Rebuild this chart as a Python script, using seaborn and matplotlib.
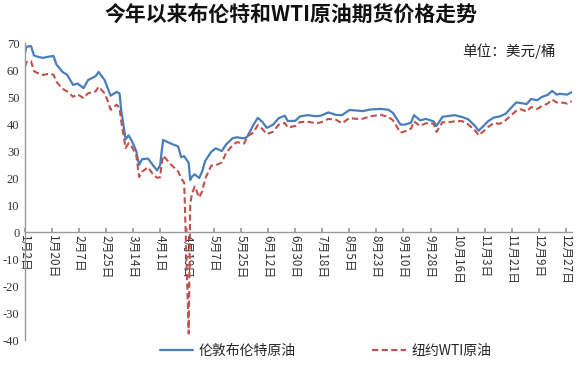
import pandas as pd
import seaborn as sns
import matplotlib.pyplot as plt

# 2020 daily settle prices (approx.), USD/bbl
DATES = [
    "01-02", "01-03", "01-06", "01-08", "01-10", "01-14", "01-17", "01-21", "01-23", "01-27",
    "01-30", "02-03", "02-06", "02-10", "02-13", "02-18", "02-20", "02-24", "02-26", "02-28",
    "03-03", "03-05", "03-06", "03-09", "03-11", "03-13", "03-16", "03-18", "03-20", "03-24",
    "03-27", "03-30", "04-01", "04-02", "04-03", "04-08", "04-13", "04-15", "04-17", "04-20",
    "04-21", "04-22", "04-24", "04-27", "04-29", "05-01", "05-05", "05-08", "05-12", "05-15",
    "05-19", "05-22", "05-27", "05-29", "06-02", "06-05", "06-08", "06-11", "06-15", "06-19",
    "06-23", "06-25", "06-30", "07-03", "07-08", "07-14", "07-17", "07-22", "07-27", "07-31",
    "08-05", "08-10", "08-14", "08-19", "08-26", "08-31", "09-03", "09-08", "09-11", "09-15",
    "09-17", "09-21", "09-25", "09-30", "10-02", "10-06", "10-09", "10-14", "10-19", "10-23",
    "10-28", "10-30", "11-03", "11-05", "11-09", "11-13", "11-17", "11-24", "11-27", "12-01",
    "12-04", "12-08", "12-11", "12-15", "12-18", "12-21", "12-23", "12-28", "12-31",
]
BRENT = [
    66.3, 68.6, 68.9, 65.4, 65.0, 64.5, 64.9, 65.2, 62.0, 59.3,
    58.3, 54.5, 55.0, 53.3, 56.3, 57.7, 59.3, 56.3, 53.4, 50.5,
    51.9, 51.3, 45.3, 34.4, 35.8, 33.9, 30.1, 24.9, 27.0, 27.2,
    24.9, 22.8, 24.7, 29.9, 34.1, 32.8, 31.7, 27.7, 28.1, 25.6,
    19.3, 20.4, 21.4, 20.0, 22.5, 26.4, 29.7, 31.0, 30.0, 32.5,
    34.7, 35.1, 34.7, 35.3, 39.6, 42.3, 40.8, 38.6, 39.7, 42.2,
    43.1, 41.1, 41.2, 42.8, 43.3, 42.9, 43.1, 44.3, 43.4, 43.3,
    45.2, 45.0, 44.8, 45.4, 45.6, 45.3, 44.1, 39.8, 39.8, 40.5,
    43.3, 41.4, 41.9, 41.0, 39.3, 42.7, 42.9, 43.3, 42.6, 41.8,
    39.1, 37.5, 39.7, 40.9, 42.4, 42.8, 43.8, 48.0, 47.8, 47.4,
    49.3, 48.8, 50.0, 50.8, 52.3, 50.9, 51.2, 50.9, 51.8,
]
WTI = [
    61.2, 63.0, 63.3, 59.6, 59.0, 58.2, 58.5, 58.3, 55.6, 53.1,
    52.1, 50.1, 51.0, 49.6, 51.4, 52.1, 53.8, 51.4, 48.7, 45.3,
    47.2, 45.9, 41.3, 31.1, 32.9, 31.7, 28.7, 20.4, 22.4, 24.0,
    21.5, 20.1, 20.3, 25.3, 28.3, 25.1, 22.4, 19.9, 18.3, -37.6,
    10.0, 13.8, 16.9, 12.8, 15.1, 19.8, 24.6, 24.7, 25.8, 29.4,
    32.0, 33.3, 32.8, 35.5, 36.8, 39.6, 38.2, 36.3, 37.1, 39.8,
    40.4, 38.7, 39.3, 40.7, 40.9, 40.3, 40.6, 41.9, 41.6, 40.3,
    42.2, 41.9, 42.0, 42.9, 43.4, 42.6, 41.4, 36.8, 37.3, 38.3,
    41.0, 39.3, 40.3, 40.2, 37.1, 40.7, 40.6, 41.0, 41.1, 39.9,
    37.4, 35.8, 37.7, 38.8, 40.3, 40.1, 41.4, 44.9, 45.5, 44.6,
    46.3, 45.6, 46.6, 47.6, 49.1, 48.0, 48.1, 47.6, 48.5,
]
SERIES = ["伦敦布伦特原油", "纽约WTI原油"]
Y_TICKS = list(range(-40, 71, 10))

dates = pd.to_datetime(["2020-" + d for d in DATES])
df = pd.DataFrame({"date": dates, SERIES[0]: BRENT, SERIES[1]: WTI})

sns.set_theme(style="white")
plt.rcParams["font.family"] = ["Noto Sans CJK SC", "DejaVu Sans"]

fig = plt.figure(figsize=(5.81, 3.68), dpi=100)
ax = fig.add_axes([0.043, 0.076, 0.941, 0.807])

sns.lineplot(data=df, x="date", y=SERIES[0], ax=ax, color="#4a7ebb",
             linewidth=1.6, label=SERIES[0])
sns.lineplot(data=df, x="date", y=SERIES[1], ax=ax, color="#c0504d",
             linewidth=1.5, linestyle=(0, (3, 1.6)), label=SERIES[1])

# spines first: moving a spine resets the ticks
for s in ["top", "right"]:
    ax.spines[s].set_visible(False)
ax.spines["bottom"].set_position(("data", 0))
for s in ["left", "bottom"]:
    ax.spines[s].set_color("#999999")
    ax.spines[s].set_linewidth(1)

ax.set_xlim(pd.Timestamp("2020-01-02"), pd.Timestamp("2020-12-31"))
ax.set_ylim(-40, 70)
ax.set_xlabel("")
ax.set_ylabel("")

ax.set_yticks(Y_TICKS)
ax.set_yticklabels([str(v) for v in Y_TICKS], family="Liberation Serif",
                   fontsize=9, color="#333333")
ax.tick_params(axis="y", length=0, pad=4)

xt = pd.date_range("2020-01-02", "2020-12-31", freq="18D")
ax.set_xticks(xt)
ax.set_xticklabels([f"{d.month}月{d.day}日" for d in xt], fontsize=8.5,
                   color="#333333", rotation=-90, ha="center", va="top")
ax.tick_params(axis="x", direction="in", length=3, color="#999999", pad=2,
               bottom=True)

fig.text(0.5, 0.96, "今年以来布伦特和WTI原油期货价格走势", ha="center", va="center",
         fontsize=15, fontweight="bold", color="#111111")
fig.text(0.957, 0.862, "单位：美元/桶", ha="right", va="center",
         fontsize=10.5, color="#222222")

ax.legend(loc="upper center", bbox_to_anchor=(0.55, 0.03), ncol=2, frameon=False,
          fontsize=10, handlelength=2.4, columnspacing=5.5, handletextpad=0.4)

plt.savefig("out.png", dpi=100)
